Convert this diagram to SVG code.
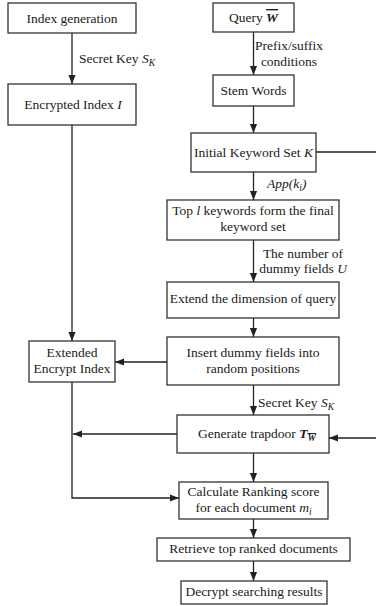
<svg xmlns="http://www.w3.org/2000/svg" width="376" height="606" viewBox="0 0 376 606" font-family="'Liberation Serif', 'DejaVu Serif', serif">
<style>
text{font-family:'Liberation Serif','DejaVu Serif',serif;font-size:13.5px;fill:#1a1a1a}
.c{text-anchor:middle}
.box{fill:#fff;stroke:#333;stroke-width:1.3}
.ln{fill:none;stroke:#222;stroke-width:1.3}
.i{font-style:italic}
.bi{font-style:italic;font-weight:bold}
.sub{font-size:9.5px}
</style>
<defs>
<marker id="ah" viewBox="0 0 10 10" refX="10" refY="5" markerWidth="9" markerHeight="9" markerUnits="userSpaceOnUse" orient="auto">
<path d="M0,1 L10,5 L0,9 z" fill="#222"/>
</marker>
</defs>
<rect width="376" height="606" fill="#fff"/>
<g id="connectors">
<path class="ln" d="M72,33 V84" marker-end="url(#ah)"/>
<path class="ln" d="M253.5,32 V75" marker-end="url(#ah)"/>
<path class="ln" d="M253.5,106 V133" marker-end="url(#ah)"/>
<path class="ln" d="M253.5,172 V200" marker-end="url(#ah)"/>
<path class="ln" d="M253.5,240 V282" marker-end="url(#ah)"/>
<path class="ln" d="M253.5,318 V337" marker-end="url(#ah)"/>
<path class="ln" d="M72,125 V341" marker-end="url(#ah)"/>
<path class="ln" d="M167,362 H115" marker-end="url(#ah)"/>
<path class="ln" d="M253.5,385 V415" marker-end="url(#ah)"/>
<path class="ln" d="M316,152 H376"/>
<path class="ln" d="M376,438 H329" marker-end="url(#ah)"/>
<path class="ln" d="M177,434 H73" marker-end="url(#ah)"/>
<path class="ln" d="M72,382 V498 H179" marker-end="url(#ah)"/>
<path class="ln" d="M253.5,453 V482" marker-end="url(#ah)"/>
<path class="ln" d="M253.5,519 V538" marker-end="url(#ah)"/>
<path class="ln" d="M253.5,561 V581" marker-end="url(#ah)"/>
<text x="79" y="63">Secret Key <tspan class="i">S</tspan><tspan class="i sub" dy="3">K</tspan></text>
<text class="c" x="289" y="50">Prefix/suffix</text>
<text class="c" x="289" y="66">conditions</text>
<text x="267" y="188" class="i">App(k<tspan class="sub" dy="3">i</tspan><tspan dy="-3">)</tspan></text>
<text class="c" x="303" y="258">The number of</text>
<text class="c" x="303" y="273">dummy fields <tspan class="i">U</tspan></text>
<text x="258" y="407">Secret Key <tspan class="i">S</tspan><tspan class="i sub" dy="3">K</tspan></text>
</g>
<g id="index-generation">
<rect class="box" x="8" y="3" width="128" height="30"/>
<text class="c" x="72" y="23">Index generation</text>
</g>
<g id="encrypted-index">
<rect class="box" x="8" y="84" width="128" height="41"/>
<text class="c" x="73" y="109">Encrypted Index <tspan class="i">I</tspan></text>
</g>
<g id="query">
<rect class="box" x="213" y="3" width="81" height="29"/>
<text class="c" x="253.5" y="22">Query <tspan class="bi" text-decoration="overline">W</tspan></text>
</g>
<g id="stem-words">
<rect class="box" x="213" y="75" width="81" height="31"/>
<text class="c" x="253.5" y="95">Stem Words</text>
</g>
<g id="initial-keyword-set">
<rect class="box" x="191" y="133" width="125" height="39"/>
<text class="c" x="253.5" y="157">Initial Keyword Set <tspan class="i">K</tspan></text>
</g>
<g id="top-keywords">
<rect class="box" x="167" y="200" width="172" height="40"/>
<text class="c" x="253" y="215">Top <tspan class="i">l</tspan> keywords form the final</text>
<text class="c" x="253" y="231">keyword set</text>
</g>
<g id="extend-dimension">
<rect class="box" x="167" y="282" width="172" height="36"/>
<text class="c" x="253" y="303">Extend the dimension of query</text>
</g>
<g id="insert-dummy">
<rect class="box" x="167" y="337" width="172" height="48"/>
<text class="c" x="253" y="357">Insert dummy fields into</text>
<text class="c" x="253" y="373">random positions</text>
</g>
<g id="extended-encrypt-index">
<rect class="box" x="29" y="341" width="86" height="41"/>
<text class="c" x="72" y="357">Extended</text>
<text class="c" x="72" y="373">Encrypt Index</text>
</g>
<g id="generate-trapdoor">
<rect class="box" x="177" y="415" width="152" height="38"/>
<text class="c" x="257" y="438">Generate trapdoor <tspan class="bi">T</tspan><tspan class="bi sub" dy="3" text-decoration="overline">W</tspan></text>
</g>
<g id="calculate-ranking">
<rect class="box" x="179" y="482" width="149" height="37"/>
<text class="c" x="253.5" y="496">Calculate Ranking score</text>
<text class="c" x="253.5" y="512">for each document <tspan class="i">m</tspan><tspan class="i sub" dy="3">i</tspan></text>
</g>
<g id="retrieve-top">
<rect class="box" x="157" y="538" width="193" height="23"/>
<text class="c" x="253.5" y="553">Retrieve top ranked documents</text>
</g>
<g id="decrypt-results">
<rect class="box" x="181" y="581" width="146" height="23"/>
<text class="c" x="254" y="596">Decrypt searching results</text>
</g>
</svg>
